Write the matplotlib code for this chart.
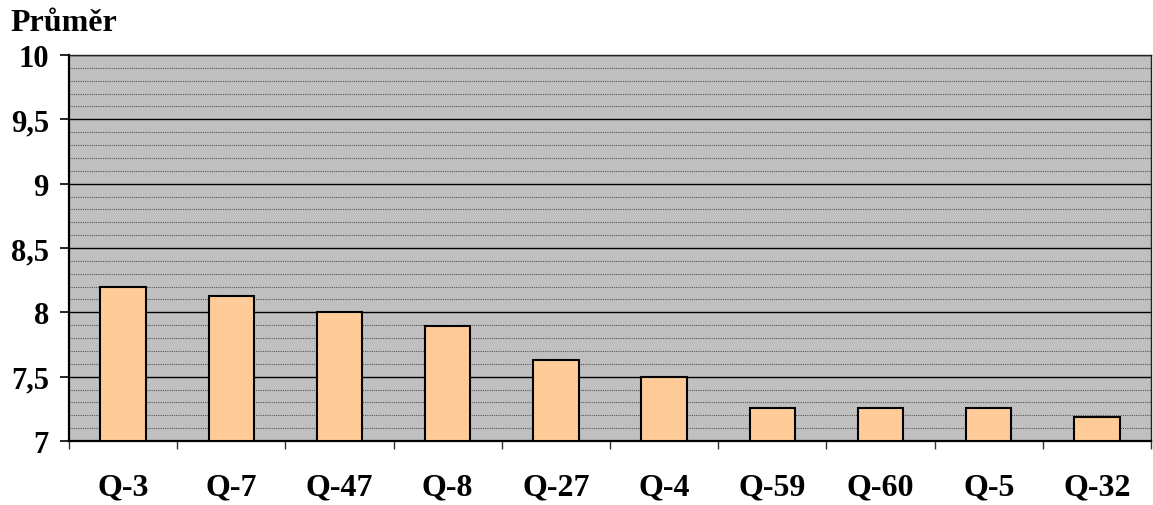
import numpy as np
import matplotlib
matplotlib.use("Agg")
from matplotlib import pyplot as plt
from matplotlib.ticker import MultipleLocator, FuncFormatter

# prumerne hodnoceni otazek
otazky = ["Q-3", "Q-7", "Q-47", "Q-8", "Q-27", "Q-4", "Q-59", "Q-60", "Q-5", "Q-32"]
prumer = [8.20, 8.13, 8.00, 7.89, 7.63, 7.50, 7.26, 7.26, 7.26, 7.19]

plt.rcParams["font.family"] = ["Liberation Serif", "DejaVu Serif"]
plt.rcParams["font.weight"] = "bold"

fig = plt.figure(figsize=(11.53, 5.06), dpi=100)
ax = fig.add_axes([0.0598, 0.1265, 0.9385, 0.7628])
ax.set_facecolor("#c0c0c0")

x = np.arange(len(otazky))
ax.bar(x, np.array(prumer) - 7, bottom=7, width=0.42, color="#ffcc99",
       edgecolor="black", linewidth=1.5, zorder=3)

ax.set_xlim(-0.5, len(otazky) - 0.5)
ax.set_ylim(7, 10)

ax.yaxis.set_major_locator(MultipleLocator(0.5))
ax.yaxis.set_minor_locator(MultipleLocator(0.1))
ax.yaxis.set_major_formatter(FuncFormatter(lambda v, p: ("%g" % v).replace(".", ",")))
ax.grid(which="major", axis="y", color="black", linewidth=1.0, zorder=1)
ax.grid(which="minor", axis="y", color="#555555", linewidth=0.8,
        linestyle=(0, (1, 1)), zorder=1)

ax.set_xticks(x)
ax.set_xticklabels(otazky)
ax.set_xticks(np.arange(len(otazky) + 1) - 0.5, minor=True)
ax.tick_params(axis="x", which="major", length=0, pad=23, labelsize=23)
ax.tick_params(axis="x", which="minor", length=6, width=1, color="#333333")
ax.tick_params(axis="y", which="major", length=6.5, width=1.2, labelsize=22, pad=8)
ax.tick_params(axis="y", which="minor", length=0)

for s in ax.spines.values():
    s.set_linewidth(1.0)
    s.set_color("#222222")
ax.spines["left"].set_linewidth(1.6)
ax.spines["left"].set_color("black")
ax.spines["bottom"].set_linewidth(1.6)
ax.spines["bottom"].set_color("black")

fig.text(0.009, 0.9387, "Průměr", fontsize=23, fontweight="bold", va="baseline", ha="left")

fig.savefig("out.png", dpi=100)
